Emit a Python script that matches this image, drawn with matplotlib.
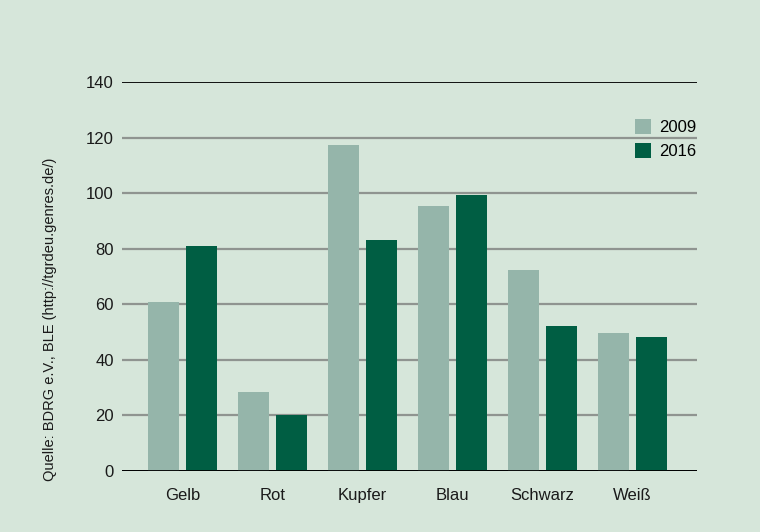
import numpy as np
import matplotlib
matplotlib.use('Agg')
import matplotlib.pyplot as plt

# Werte
sorten = ['Gelb', 'Rot', 'Kupfer', 'Blau', 'Schwarz', 'Weiß']
werte_2009 = [61, 28.5, 117.5, 95.5, 72.5, 49.8]
werte_2016 = [80.8, 20, 83.3, 99.2, 52.3, 48.3]
y_ticks = [0, 20, 40, 60, 80, 100, 120, 140]

bg = '#d6e6da'
hell = '#95b5aa'
dunkel = '#005e43'

plt.rcParams['font.family'] = ['Liberation Sans Narrow', 'Liberation Sans', 'DejaVu Sans']

fig = plt.figure(figsize=(7.6, 5.32), dpi=100, facecolor=bg)
ax = fig.add_axes([122/760, 61/532, 575/760, 389/532])
ax.set_facecolor(bg)

x = np.arange(len(sorten))
w = 0.344
off = 0.211

# Gitterlinien
for t in y_ticks:
    if t in (0, 140):
        ax.axhline(t, color='black', lw=1.3, zorder=1)
    else:
        ax.axhline(t, color='#8f9490', lw=1.6, zorder=1)

ax.bar(x - off, werte_2009, w, color=hell, label='2009', zorder=2)
ax.bar(x + off, werte_2016, w, color=dunkel, label='2016', zorder=2)
ax.axhline(0, color='black', lw=1.3, zorder=3)

ax.set_xlim(-0.672, 5.717)
ax.set_ylim(0, 140)
ax.set_yticks(y_ticks)
ax.set_xticks(x)
ax.set_xticklabels(sorten)
ax.tick_params(axis='y', length=0, pad=6, labelsize=12, labelcolor='#1a1a1a')
ax.tick_params(axis='x', length=0, pad=12, labelsize=12, labelcolor='#1a1a1a')
for s in ax.spines.values():
    s.set_visible(False)

ax.set_ylabel('Quelle: BDRG e.V., BLE (http://tgrdeu.genres.de/)', fontsize=10.5,
              color='#1a1a1a')
ax.yaxis.set_label_coords(-0.113, 0.39)

ax.legend(loc='upper right', bbox_to_anchor=(1.01, 0.922), frameon=False,
          handlelength=1.0, handleheight=1.0, handletextpad=0.45,
          labelspacing=0.45, fontsize=12, borderaxespad=0)

fig.savefig('out.png', dpi=100, facecolor=bg)
